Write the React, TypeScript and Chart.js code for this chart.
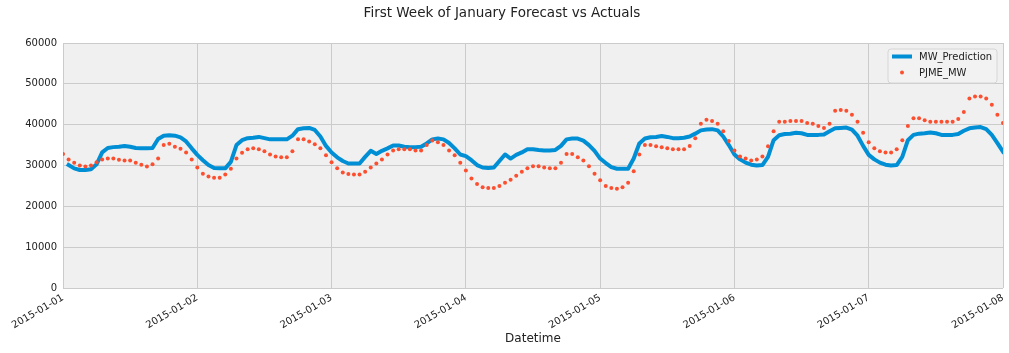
import React, { useEffect, useRef } from 'react';
import { Chart, registerables } from 'chart.js';

Chart.register(...registerables);

const FONT = '"DejaVu Sans", "Liberation Sans", sans-serif';

const chartTitle = 'First Week of January Forecast vs Actuals';
const xAxisTitle = 'Datetime';
const dateLabels = ['2015-01-01', '2015-01-02', '2015-01-03', '2015-01-04', '2015-01-05', '2015-01-06', '2015-01-07', '2015-01-08'];
const yTicks = [0, 10000, 20000, 30000, 40000, 50000, 60000];
const seriesNames = ['MW_Prediction', 'PJME_MW'];

// hourly actuals, 2015-01-01 00:00 .. 2015-01-08 00:00
const pjmeMW = [
  32800, 31500, 30700, 30000, 29750, 30000, 30800, 31500, 31700, 31700, 31400, 31200,
  31200, 30700, 30200, 29750, 30300, 31700, 35000, 35300, 34600, 34100, 33200, 31500,
  29500, 28000, 27300, 27000, 27000, 27800, 29200, 31700, 33100, 34000, 34200, 34000,
  33500, 32700, 32200, 32000, 32000, 33500, 36400, 36400, 35900, 35200, 34200, 32500,
  30800, 29300, 28300, 27900, 27800, 27800, 28500, 29500, 30500, 31500, 32700, 33700,
  34000, 34000, 34000, 33700, 33700, 35000, 36100, 35700, 35000, 33700, 32500, 30700,
  28800, 26800, 25500, 24700, 24500, 24500, 25000, 25800, 26500, 27500, 28500, 29300,
  29800, 29800, 29500, 29300, 29300, 30700, 32800, 32800, 32000, 31200, 29800, 28000,
  26400, 25000, 24500, 24300, 24700, 25800, 28600, 32700, 35000, 35000, 34700, 34500,
  34200, 34000, 34000, 34000, 34800, 36700, 40200, 41200, 40900, 40200, 38400, 36000,
  33700, 32200, 31700, 31200, 31500, 32200, 34700, 38400, 40700, 40700, 40900, 40900,
  40900, 40400, 40200, 39700, 39200, 40200, 43400, 43600, 43400, 42400, 40700, 38000,
  35700, 34200, 33500, 33200, 33200, 34000, 36200, 39700, 41600, 41600, 41100, 40700,
  40700, 40700, 40700, 40700, 41400, 43100, 46400, 46900, 46900, 46400, 44900, 42400,
  40400,
];

// hourly predictions (first hour has no prediction)
const mwPrediction = [
  null, 30100, 29300, 28900, 28900, 29100, 30300, 33200, 34300, 34500, 34600, 34800,
  34600, 34300, 34200, 34200, 34300, 36500, 37300, 37400, 37300, 36900, 35900, 34200,
  32600, 31300, 30100, 29400, 29300, 29300, 30900, 35000, 36200, 36700, 36800, 37000,
  36700, 36400, 36400, 36400, 36400, 37300, 38900, 39100, 39200, 38700, 37100, 34800,
  33200, 32000, 31100, 30500, 30500, 30500, 32100, 33600, 32800, 33600, 34200, 34900,
  34900, 34600, 34500, 34500, 34600, 35400, 36400, 36600, 36400, 35500, 34200, 32700,
  32300, 31300, 30100, 29500, 29400, 29500, 31100, 32700, 31700, 32600, 33200, 34000,
  34000, 33800, 33700, 33700, 33800, 34800, 36400, 36600, 36600, 36100, 35000, 33600,
  31700, 30600, 29600, 29200, 29200, 29200, 31700, 35400, 36600, 36900, 37000, 37200,
  37000, 36700, 36700, 36800, 37100, 37800, 38600, 38800, 38900, 38600, 37100, 35000,
  32700, 31500, 30700, 30200, 30000, 30100, 32100, 36200, 37400, 37700, 37800, 38000,
  37900, 37500, 37500, 37500, 37600, 38400, 39100, 39200, 39300, 38800, 37300, 34800,
  32600, 31500, 30700, 30200, 30000, 30100, 32100, 36200, 37500, 37800, 37900, 38100,
  37900, 37500, 37500, 37500, 37700, 38500, 39100, 39300, 39400, 38900, 37500, 35500,
  33400,
];

const BLUE = '#008fd5';
const RED = '#fc4f30';
const GRID = '#cbcbcb';
const TEXT = '#222222';

const decorPlugin = {
  id: 'decor',
  beforeDraw(chart: any) {
    const { ctx, chartArea: a } = chart;
    ctx.save();
    ctx.fillStyle = '#f0f0f0';
    ctx.fillRect(a.left, a.top, a.right - a.left, a.bottom - a.top);
    ctx.restore();
  },
  afterDraw(chart: any) {
    const { ctx, chartArea: a } = chart;
    ctx.save();
    // figure title
    ctx.fillStyle = TEXT;
    ctx.font = `13.5px ${FONT}`;
    ctx.textAlign = 'center';
    ctx.textBaseline = 'middle';
    ctx.fillText(chartTitle, 502, 13);

    // legend
    const w = 109;
    const h = 34;
    const x0 = a.right - 6 - w;
    const y0 = a.top + 6;
    const r = 3;
    ctx.beginPath();
    ctx.moveTo(x0 + r, y0);
    ctx.lineTo(x0 + w - r, y0);
    ctx.arcTo(x0 + w, y0, x0 + w, y0 + r, r);
    ctx.lineTo(x0 + w, y0 + h - r);
    ctx.arcTo(x0 + w, y0 + h, x0 + w - r, y0 + h, r);
    ctx.lineTo(x0 + r, y0 + h);
    ctx.arcTo(x0, y0 + h, x0, y0 + h - r, r);
    ctx.lineTo(x0, y0 + r);
    ctx.arcTo(x0, y0, x0 + r, y0, r);
    ctx.closePath();
    ctx.fillStyle = 'rgba(242,242,242,0.85)';
    ctx.fill();
    ctx.strokeStyle = '#d6d6d6';
    ctx.lineWidth = 1;
    ctx.stroke();

    ctx.strokeStyle = BLUE;
    ctx.lineWidth = 4;
    ctx.lineCap = 'butt';
    ctx.beginPath();
    ctx.moveTo(x0 + 4, y0 + 7.5);
    ctx.lineTo(x0 + 24, y0 + 7.5);
    ctx.stroke();

    ctx.fillStyle = RED;
    ctx.beginPath();
    ctx.arc(x0 + 14, y0 + 23.5, 2, 0, Math.PI * 2);
    ctx.fill();

    ctx.fillStyle = TEXT;
    ctx.font = `10px ${FONT}`;
    ctx.textAlign = 'left';
    ctx.textBaseline = 'middle';
    ctx.fillText(seriesNames[0], x0 + 31, y0 + 8);
    ctx.fillText(seriesNames[1], x0 + 31, y0 + 24);
    ctx.restore();
  },
};

export default function App() {
  const canvasRef = useRef<HTMLCanvasElement | null>(null);

  useEffect(() => {
    const canvas = canvasRef.current;
    if (!canvas) return;
    const predData = mwPrediction.map((y, i) => ({ x: i, y }));
    const actualData = pjmeMW.map((y, i) => ({ x: i, y }));
    const chart = new Chart(canvas, {
      type: 'line',
      data: {
        datasets: [
          {
            label: seriesNames[0],
            data: predData as any,
            borderColor: BLUE,
            backgroundColor: BLUE,
            borderWidth: 4,
            pointRadius: 0,
            borderCapStyle: 'square',
            borderJoinStyle: 'round',
            tension: 0,
            fill: false,
            spanGaps: false,
            order: 1,
          },
          {
            label: seriesNames[1],
            data: actualData as any,
            showLine: false,
            borderColor: RED,
            backgroundColor: RED,
            pointBackgroundColor: RED,
            pointBorderWidth: 0,
            borderWidth: 0,
            pointRadius: 2,
            order: 0,
          },
        ],
      },
      options: {
        animation: false,
        responsive: false,
        events: [],
        layout: { padding: { top: 43, left: 0, right: 0, bottom: 0 } },
        plugins: {
          legend: { display: false },
          title: { display: false },
          tooltip: { enabled: false },
        },
        scales: {
          x: {
            type: 'linear',
            min: 0,
            max: 168,
            border: { display: false },
            grid: { color: GRID, lineWidth: 1, drawTicks: false },
            ticks: {
              stepSize: 24,
              autoSkip: false,
              minRotation: 30,
              maxRotation: 30,
              padding: 4,
              color: TEXT,
              font: { family: FONT, size: 10 },
              callback: (v: any) => dateLabels[Math.round(Number(v) / 24)] ?? '',
            },
            title: {
              display: true,
              text: xAxisTitle,
              color: TEXT,
              font: { family: FONT, size: 12 },
              padding: { top: 0, bottom: 7 },
            },
            afterFit: (s: any) => {
              s.height = 65;
              s.paddingLeft = 0;
              s.paddingRight = 6;
            },
          },
          y: {
            min: 0,
            max: 60000,
            border: { display: false },
            grid: { color: GRID, lineWidth: 1, drawTicks: false },
            afterBuildTicks: (s: any) => {
              s.ticks = yTicks.map((v) => ({ value: v }));
            },
            ticks: {
              padding: 6,
              color: TEXT,
              font: { family: FONT, size: 10 },
              callback: (v: any) => String(v),
            },
            afterFit: (s: any) => {
              s.width = 63;
            },
          },
        },
      },
      plugins: [decorPlugin],
    });
    return () => chart.destroy();
  }, []);

  return (
    <div style={{ position: 'absolute', left: 0, top: 0, width: 1009, height: 353, background: '#ffffff' }}>
      <canvas ref={canvasRef} width={1009} height={353} style={{ width: 1009, height: 353, display: 'block' }} />
    </div>
  );
}
